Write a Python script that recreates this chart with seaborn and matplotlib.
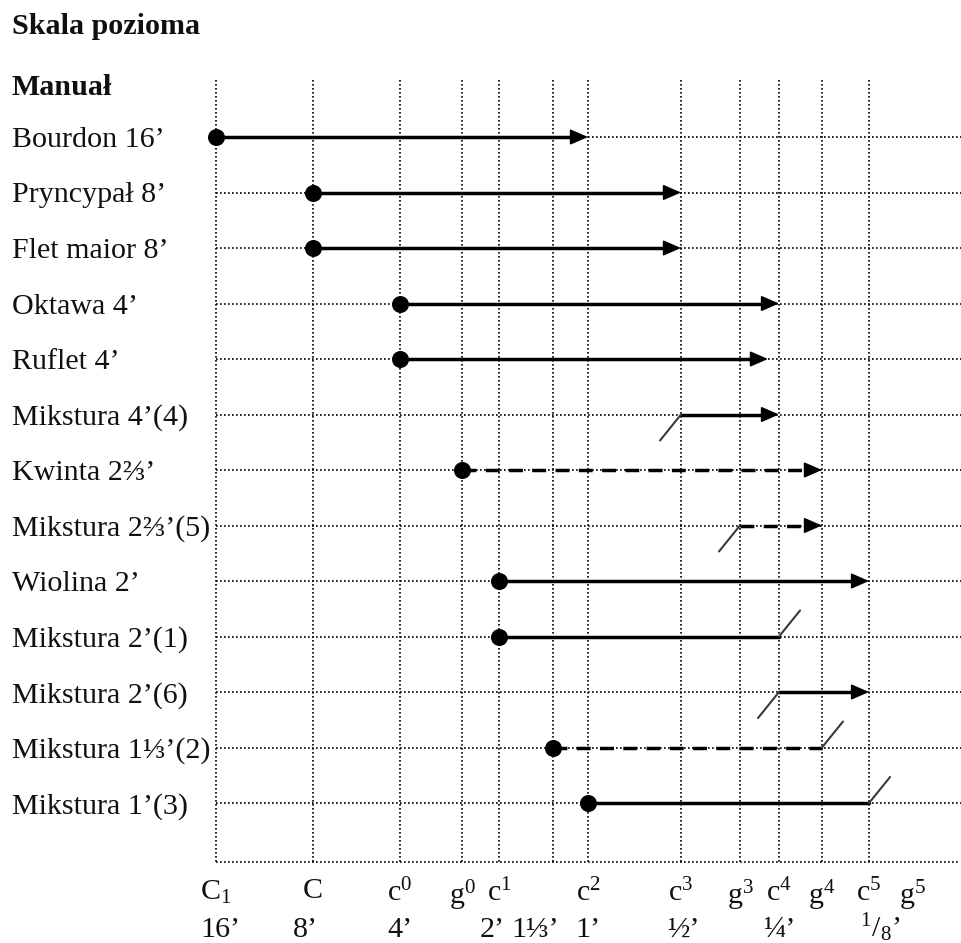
import matplotlib
matplotlib.use("Agg")
import matplotlib.pyplot as plt
import seaborn as sns
import pandas as pd

# ---- data -------------------------------------------------------------
# pitch positions along the keyboard (octave units from C1)
NOTE_NAMES = ["C$_1$", "C", "c$^0$", "g$^0$", "c$^1$", "", "c$^2$",
              "c$^3$", "g$^3$", "c$^4$", "g$^4$", "c$^5$", "g$^5$"]
NOTE_POS = [0.0, 1.043, 1.978, 2.645, 3.043, 3.624, 4.0,
            5.0, 5.634, 6.054, 6.516, 7.022, 7.484]
GRID_POS = NOTE_POS[:-1]          # g5 is labelled only

# footage labels and the pitch they stand under
FOOT_LABELS = ["16’", "8’", "4’", "2’", "1⅓’", "1’", "½’", "¼’",
               "$^1/_8$’"]
FOOT_POS = [0.0, 1.043, 1.978, 3.043, 3.624, 4.0, 5.0, 6.054, 7.022]

STOPS = ["Bourdon 16’", "Pryncypał 8’", "Flet maior 8’", "Oktawa 4’",
         "Ruflet 4’", "Mikstura 4’(4)", "Kwinta 2⅔’", "Mikstura 2⅔’(5)",
         "Wiolina 2’", "Mikstura 2’(1)", "Mikstura 2’(6)",
         "Mikstura 1⅓’(2)", "Mikstura 1’(3)"]
START = [0.0, 1.043, 1.043, 1.978, 1.978, 5.0, 2.645, 5.634,
         3.043, 3.043, 6.054, 3.624, 4.0]
END = [4.0, 5.0, 5.0, 6.054, 5.935, 6.054, 6.516, 6.516,
       7.022, 6.054, 7.022, 6.516, 7.022]
KIND = ["solid", "solid", "solid", "solid", "solid", "solid", "dashed",
        "dashed", "solid", "solid", "solid", "dashed", "solid"]
BEGIN = ["dot", "dot", "dot", "dot", "dot", "break", "dot", "break",
         "dot", "dot", "break", "dot", "dot"]
FINISH = ["arrow", "arrow", "arrow", "arrow", "arrow", "arrow", "arrow",
          "arrow", "arrow", "break", "arrow", "break", "break"]

# ---- styling ------------------------------------------------------------
sns.set_theme(style="white")
plt.rcParams["font.family"] = ["Liberation Serif", "DejaVu Serif"]
plt.rcParams["mathtext.fontset"] = "custom"
plt.rcParams["mathtext.rm"] = "Liberation Serif"
plt.rcParams["mathtext.it"] = "Liberation Serif:italic"
plt.rcParams["mathtext.default"] = "regular"

FS = 21.6
TXT = "#101010"
W, H = 961, 943
fig = plt.figure(figsize=(W / 100, H / 100), dpi=100)
fig.patch.set_facecolor("white")

PX_PER_UNIT = 93.0
ROW_PX = 55.5
x_left = -16 / PX_PER_UNIT
x_right = (961 - 216) / PX_PER_UNIT
ax_left_px, ax_top_px, ax_bot_px = 200, 70, 870
ax = fig.add_axes([ax_left_px / W, 1 - ax_bot_px / H,
                   (W - ax_left_px) / W, (ax_bot_px - ax_top_px) / H])
ax.set_xlim(x_left, x_right)
y_top = (ax_top_px - 137) / ROW_PX
y_bot = (ax_bot_px - 137) / ROW_PX
ax.set_ylim(y_bot, y_top)
for s in ax.spines.values():
    s.set_visible(False)

rows = list(range(len(STOPS)))
grid_top = (80 - 137) / ROW_PX
grid_bot = (862 - 137) / ROW_PX
dotted = (0, (1.0, 1.4))
gcol = "#000000"

# dotted grid
ax.vlines(GRID_POS, grid_top, grid_bot, colors=gcol, linestyles=dotted,
          linewidth=1.2, zorder=1)
ax.hlines(rows, 0, x_right, colors=gcol, linestyles=dotted,
          linewidth=1.2, zorder=1)
ax.hlines([grid_bot], 0, (958 - 216) / PX_PER_UNIT, colors=gcol,
          linestyles=dotted, linewidth=1.2, zorder=1)

# compass lines for every stop
HEAD_LEN = 0.17
segs = []
for i, (a, b, k, f) in enumerate(zip(START, END, KIND, FINISH)):
    stop_end = b - 0.1 if f == "arrow" else b
    segs.append({"stop": STOPS[i], "x": a, "y": i, "kind": k})
    segs.append({"stop": STOPS[i], "x": stop_end, "y": i, "kind": k})
df = pd.DataFrame(segs)
sns.lineplot(data=df, x="x", y="y", units="stop", estimator=None,
             style="kind", dashes={"solid": "", "dashed": (4.0, 2.7)},
             color="black", linewidth=2.5, legend=False, sort=False,
             ax=ax, zorder=3)

# start dots
dots = pd.DataFrame({"x": [s for s, b in zip(START, BEGIN) if b == "dot"],
                     "y": [r for r, b in zip(rows, BEGIN) if b == "dot"]})
sns.scatterplot(data=dots, x="x", y="y", s=150, color="black",
                linewidth=0, ax=ax, zorder=4, legend=False)

# arrow heads
for r, b, f in zip(rows, END, FINISH):
    if f == "arrow":
        ax.annotate("", xy=(b, r), xytext=(b - HEAD_LEN, r),
                    arrowprops=dict(arrowstyle="-|>,head_length=11,"
                                    "head_width=4.8", mutation_scale=1,
                                    color="black", lw=1.2,
                                    shrinkA=0, shrinkB=0), zorder=4)

# breaks (repetitions of the mixtures)
DX = 21 / PX_PER_UNIT
DY = 26 / ROW_PX
for r, a, b, st, f in zip(rows, START, END, BEGIN, FINISH):
    if st == "break":
        ax.plot([a - DX, a], [r + DY, r], color="#3a3a3a", lw=1.5,
                zorder=3)
    if f == "break":
        ax.plot([b, b + DX], [r, r - DY], color="#3a3a3a", lw=1.5,
                zorder=3)

# axis labels
ax.set_xticks(NOTE_POS, NOTE_NAMES)
ax.set_yticks(rows, STOPS)
ax.tick_params(axis="x", length=0, pad=6, labelsize=FS, colors=TXT)
ax.tick_params(axis="y", length=0, pad=(ax_left_px - 12) * 0.72,
               labelsize=FS, colors=TXT)
for lbl in ax.get_yticklabels():
    lbl.set_horizontalalignment("left")
ax.set_xlabel("")
ax.set_ylabel("")

FOOT_NUDGE = [4, -8, 0, -7, -18, 0, 2, 0, 11]
for pos, txt, dx in zip(FOOT_POS, FOOT_LABELS, FOOT_NUDGE):
    ax.annotate(txt, xy=(pos, 0), xycoords=("data", "axes fraction"),
                xytext=(dx * 0.72, -(937 - ax_bot_px) * 0.72),
                textcoords="offset points", ha="center", va="baseline",
                fontsize=FS, color=TXT, annotation_clip=False)

fig.text(12 / W, 1 - 34 / H, "Skala pozioma", fontsize=FS,
         fontweight="bold", va="baseline", color=TXT)
fig.text(12 / W, 1 - 95 / H, "Manuał", fontsize=FS,
         fontweight="bold", va="baseline", color=TXT)

fig.savefig("out.png", dpi=100, facecolor="white")
